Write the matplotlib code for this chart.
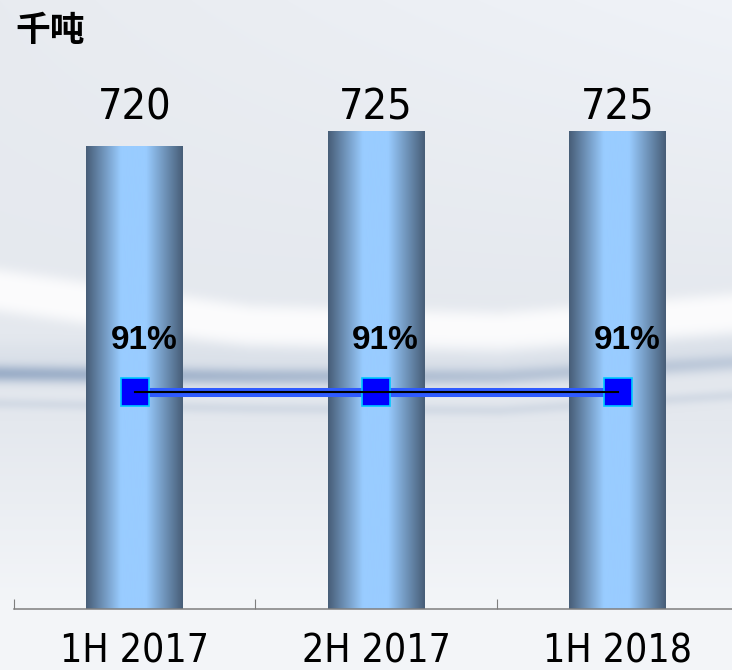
import matplotlib.pyplot as plt
import numpy as np
import matplotlib
from matplotlib import font_manager
from matplotlib.colors import LinearSegmentedColormap

# Data
periods = ['1H 2017', '2H 2017', '1H 2018']
capacity = [720, 725, 725]      # 千吨
utilization = [91, 91, 91]      # %
unit_label = '千吨'

# pick a narrow font if one is installed
fonts = font_manager.fontManager.ttflist
narrow = None
for fam in ['Liberation Sans Narrow', 'DejaVu Sans', 'Noto Sans', 'Open Sans', 'Roboto']:
    if any(f.name == fam and 'condensed' in str(f.stretch) for f in fonts) or \
            (fam == 'Liberation Sans Narrow' and any(f.name == fam for f in fonts)):
        narrow = fam
        break
if narrow is not None:
    label_font = dict(family=[narrow, 'DejaVu Sans'], fontstretch='condensed')
    val_size, cat_size = 31, 28
else:
    label_font = dict(family=['Liberation Sans', 'DejaVu Sans'])
    val_size, cat_size = 28, 25

W, H = 732, 670
fig = plt.figure(figsize=(W / 100, H / 100), dpi=100)

# ---- decorative background (light gray with a white swoosh) ----
yy, xx = np.mgrid[0:H, 0:W].astype(float)
top = np.array([232, 235, 240]) / 255
mid = np.array([228, 232, 238]) / 255
low = np.array([243, 245, 248]) / 255
t = np.clip(yy / 420, 0, 1)[..., None]
img = top * (1 - t) + mid * t
t2 = np.clip((yy - 420) / 180, 0, 1)[..., None]
img = img * (1 - t2) + low * t2
img = img + (xx / W * (1 - np.clip(yy / 300, 0, 1)))[..., None] * 0.03

cx = [0, 250, 500, 732]
white_c = np.interp(xx, cx, [290, 326, 333, 314])
w = np.exp(-((yy - white_c) / 22) ** 4)[..., None]
img = img * (1 - w) + np.array([252, 252, 253]) / 255 * w

shade_c = np.interp(xx, cx, [355, 356, 358, 345])
s = (0.35 * np.exp(-((yy - shade_c) / 14) ** 2))[..., None]
img = img * (1 - s) + np.array([205, 214, 226]) / 255 * s

gray_c = np.interp(xx, cx, [373, 376, 376, 362])
g_str = np.interp(xx, cx, [0.8, 0.65, 0.5, 0.4])
g = (g_str * np.exp(-((yy - gray_c) / 9) ** 2))[..., None]
img = img * (1 - g) + np.array([140, 162, 192]) / 255 * g

faint_c = np.interp(xx, cx, [403, 408, 410, 395])
f = (0.3 * np.exp(-((yy - faint_c) / 6) ** 2))[..., None]
img = img * (1 - f) + np.array([175, 190, 210]) / 255 * f
img = np.clip(img, 0, 1)

bg = fig.add_axes([0, 0, 1, 1], zorder=0)
bg.imshow(img, aspect='auto', extent=[0, 1, 0, 1], interpolation='bilinear')
bg.axis('off')

# ---- bars ----
ax = fig.add_axes([13.75 / W, 61 / H, (W - 13.75) / W, 609 / H], zorder=1)
ax.patch.set_alpha(0)
x = np.arange(len(periods))
bars = ax.bar(x, capacity, width=0.40, color='none', edgecolor='none')

bar_cmap = LinearSegmentedColormap.from_list(
    'bar', [(0.0, '#475d77'), (0.36, '#99ccff'), (0.62, '#99ccff'), (1.0, '#475d77')])
grad = np.linspace(0, 1, 256)[None, :]
for b in bars:
    x0, bw, bh = b.get_x(), b.get_width(), b.get_height()
    ax.imshow(grad, extent=[x0, x0 + bw, 0, bh], aspect='auto', cmap=bar_cmap,
              interpolation='bilinear', zorder=2)

ax.set_xlim(-0.5, 2.474)
ax.set_ylim(565.67, 768.67)

# value labels above bars
for b, v in zip(bars, capacity):
    ax.text(b.get_x() + b.get_width() / 2, 729.0, str(v), ha='center', va='baseline',
            fontsize=val_size, color='black', **label_font)

# axis styling
for side in ['top', 'right', 'left']:
    ax.spines[side].set_visible(False)
ax.spines['bottom'].set_color('#7f7f7f')
ax.spines['bottom'].set_linewidth(1.1)
ax.set_yticks([])
ax.set_xticks([-0.5, 0.5, 1.5])
ax.set_xticklabels([])
ax.tick_params(axis='x', which='major', direction='in', length=7, width=0.8, color='#7f7f7f')

# category labels
for xi, p in zip(x, periods):
    ax.text(xi, -0.088, p, transform=ax.get_xaxis_transform(), ha='center', va='baseline',
            fontsize=cat_size, color='black', **label_font)

# ---- utilization line on secondary axis ----
ax2 = ax.twinx()
ax2.set_ylim(0, 255.4)
ax2.plot(x, utilization, color='#2f5bff', lw=6.5, solid_capstyle='butt', zorder=3)
ax2.plot(x, utilization, ls='none', marker='s', ms=19.5, mfc='#0000ff',
         mec='#00c8ff', mew=1.2, zorder=4)
ax2.plot(x, utilization, color='black', lw=1.5, zorder=5)
for xi, u in zip(x, utilization):
    ax2.annotate(f'{u}%', (xi, u), xytext=(7, 31), textcoords='offset points',
                 ha='center', va='baseline', fontsize=24, fontweight='bold',
                 family=['Liberation Sans', 'DejaVu Sans'])
ax2.set_yticks([])
for sp in ax2.spines.values():
    sp.set_visible(False)

fig.text(50 / W, 1 - 30 / H, unit_label, ha='center', va='center', fontsize=25,
         fontweight='bold', family=['Noto Sans CJK SC', 'DejaVu Sans'])

fig.savefig('out.png', dpi=100)
plt.close()
